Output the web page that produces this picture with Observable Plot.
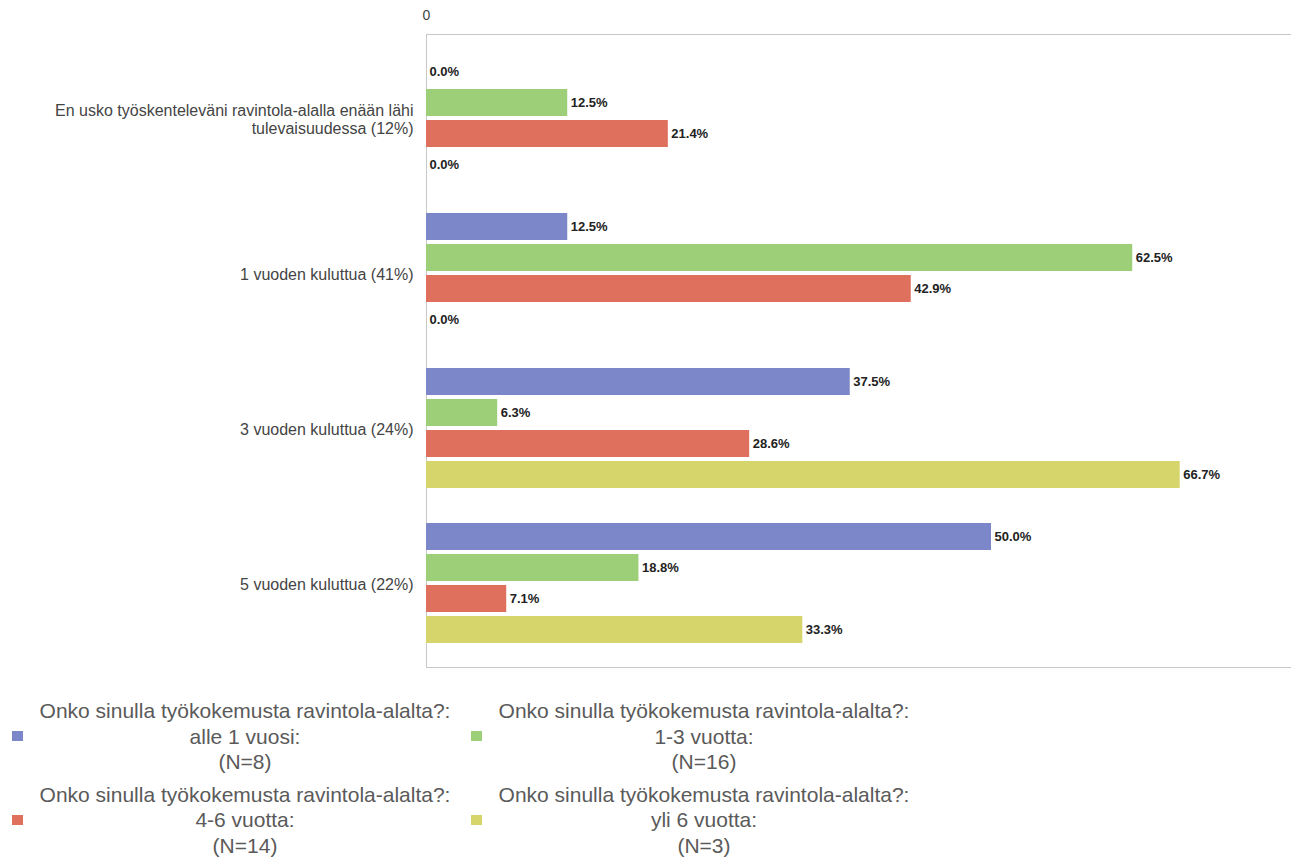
<!DOCTYPE html>
<html>
<head>
<meta charset="utf-8">
<script src="https://cdn.jsdelivr.net/npm/d3@7"></script>
<script src="https://cdn.jsdelivr.net/npm/@observablehq/plot@0.6"></script>
<style>
  body { margin: 0; background: #fff; font-family: "Liberation Sans", Arial, sans-serif; }
  #legend { display: grid; grid-template-columns: 459px 459px; row-gap: 7px; margin-top: 13px; }
  .item { display: flex; align-items: center; }
  .sw { width: 11px; height: 10px; margin-left: 12px; flex: none; }
  .txt { flex: 1; text-align: center; font-size: 21px; line-height: 25.5px; color: #5a5a5a; padding-left: 8px; }
</style>
</head>
<body>
<div id="chart"></div>
<div id="legend"></div>
<script>
const categories = [
  "En usko työskenteleväni ravintola-alalla enään lähi tulevaisuudessa (12%)",
  "1 vuoden kuluttua (41%)",
  "3 vuoden kuluttua (24%)",
  "5 vuoden kuluttua (22%)"
];
const categoryLabels = [
  "En usko työskenteleväni ravintola-alalla enään lähi\ntulevaisuudessa (12%)",
  "1 vuoden kuluttua (41%)",
  "3 vuoden kuluttua (24%)",
  "5 vuoden kuluttua (22%)"
];
const series = ["alle 1 vuosi", "1-3 vuotta", "4-6 vuotta", "yli 6 vuotta"];
const seriesN = [8, 16, 14, 3];
const legendQuestion = "Onko sinulla työkokemusta ravintola-alalta?:";
const colors = ["#7b87c8", "#9dcf79", "#e0705e", "#d6d56b"];

const valuesAlle1 = [0.0, 12.5, 37.5, 50.0];
const values1to3  = [12.5, 62.5, 6.3, 18.8];
const values4to6  = [21.4, 42.9, 28.6, 7.1];
const valuesYli6  = [0.0, 0.0, 66.7, 33.3];
const xTicks = [0];

const seriesValues = [valuesAlle1, values1to3, values4to6, valuesYli6];
const data = [];
categories.forEach((c, i) => {
  series.forEach((s, j) => data.push({category: c, series: s, value: seriesValues[j][i]}));
});

const chart = Plot.plot({
  width: 1291,
  height: 685,
  marginLeft: 426,
  marginRight: 0,
  marginTop: 54,
  marginBottom: 37,
  style: {fontFamily: "Liberation Sans, Arial, sans-serif"},
  x: {domain: [0, 76.55]},
  fy: {domain: categories, paddingInner: 0.192, paddingOuter: 0},
  y: {domain: series, paddingInner: 0.12, paddingOuter: 0.06, axis: null},
  color: {domain: series, range: colors},
  marks: [
    Plot.axisX({anchor: "top", ticks: xTicks, tickSize: 0, tickPadding: 37, label: null, fontSize: 14, fill: "#444"}),
    Plot.axisFy({anchor: "left", tickSize: 0, tickPadding: 13, label: null, fontSize: 16, fill: "#444", lineHeight: 1.12,
      tickFormat: d => categoryLabels[categories.indexOf(d)]}),
    Plot.frame({anchor: "top", stroke: "#c8c8c8", facet: "super", insetTop: -22}),
    Plot.frame({anchor: "bottom", stroke: "#c8c8c8", facet: "super", insetBottom: -21}),
    Plot.frame({anchor: "left", stroke: "#c8c8c8", facet: "super", insetTop: -22, insetBottom: -21}),
    Plot.barX(data, {x: "value", y: "series", fy: "category", fill: "series"}),
    Plot.text(data, {x: "value", y: "series", fy: "category", text: d => d.value.toFixed(1) + "%",
      textAnchor: "start", dx: 3, fontSize: 13, fontWeight: "bold", fill: "#222"})
  ]
});
document.getElementById("chart").appendChild(chart);

const legend = document.getElementById("legend");
series.forEach((s, j) => {
  const item = document.createElement("div");
  item.className = "item";
  const sw = document.createElement("div");
  sw.className = "sw";
  sw.style.background = colors[j];
  const txt = document.createElement("div");
  txt.className = "txt";
  txt.innerHTML = `${legendQuestion}<br>${s}:<br>(N=${seriesN[j]})`;
  item.appendChild(sw);
  item.appendChild(txt);
  legend.appendChild(item);
});
</script>
</body>
</html>
